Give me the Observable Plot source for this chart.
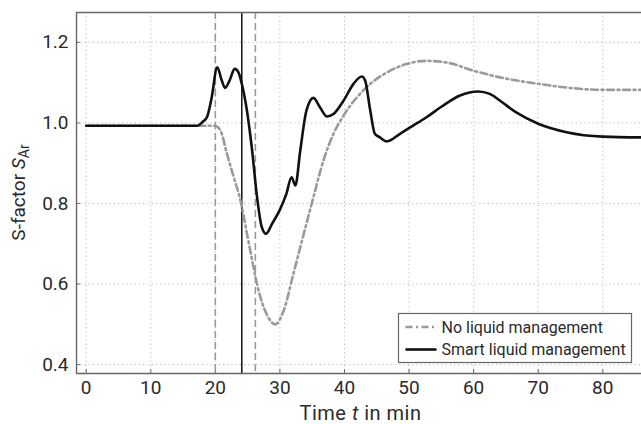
<!DOCTYPE html>
<html>
<head>
<meta charset="utf-8">
<script src="https://cdn.jsdelivr.net/npm/d3@7"></script>
<script src="https://cdn.jsdelivr.net/npm/@observablehq/plot@0.6"></script>
<style>
  html, body { margin: 0; padding: 0; background: #fff; }
  #chart { position: relative; width: 641px; height: 424px; }
</style>
</head>
<body>
<div id="chart"></div>
<script>
// ---- data ----
const smartT = [0, 8, 17.2, 18.0, 18.7, 19.4, 20.3, 21.0, 21.5, 22.2, 23.0, 23.6, 24.1, 24.9, 25.7, 26.4, 27.2, 27.85, 28.8, 29.95, 31.0, 31.8, 32.4, 33.15, 34.1, 35.2, 36.2, 37.3, 38.3, 39.85, 41.4, 42.7, 43.2, 44.0, 44.7, 45.5, 46.55, 48.6, 50.5, 52.7, 55.0, 57.9, 60.7, 62.5, 64.1, 66.6, 70.0, 74.4, 80.0, 86.0];
const smartS = [0.993, 0.993, 0.993, 1.002, 1.014, 1.06, 1.138, 1.105, 1.087, 1.105, 1.134, 1.125, 1.097, 1.03, 0.931, 0.824, 0.741, 0.725, 0.750, 0.783, 0.824, 0.865, 0.845, 0.931, 1.03, 1.062, 1.039, 1.016, 1.022, 1.055, 1.097, 1.115, 1.105, 1.03, 0.973, 0.964, 0.954, 0.973, 0.992, 1.014, 1.040, 1.068, 1.078, 1.072, 1.055, 1.026, 0.998, 0.977, 0.966, 0.964];
const noneT = [0, 8, 19.9, 20.8, 21.8, 22.85, 23.9, 24.9, 25.7, 26.7, 27.9, 29.3, 30.6, 32.1, 33.7, 35.2, 36.75, 38.3, 39.85, 41.9, 44.0, 46.55, 49.6, 52.5, 55.8, 59.9, 64.1, 70.0, 75.4, 80.0, 86.0];
const noneS = [0.993, 0.993, 0.993, 0.981, 0.923, 0.865, 0.807, 0.725, 0.659, 0.584, 0.527, 0.500, 0.535, 0.626, 0.725, 0.816, 0.907, 0.973, 1.018, 1.063, 1.097, 1.125, 1.146, 1.154, 1.150, 1.130, 1.113, 1.097, 1.086, 1.082, 1.082];
const dashedEvents = [20.0, 26.2];
const solidEvents = [24.1];
const xTicks = [0, 10, 20, 30, 40, 50, 60, 70, 80];
const yTicks = [0.4, 0.6, 0.8, 1.0, 1.2];
const seriesNames = ["No liquid management", "Smart liquid management"];

const smart = smartT.map((t, i) => ({t, s: smartS[i]}));
const none = noneT.map((t, i) => ({t, s: noneS[i]}));

const xDom = [-1.5, 86];
const yDom = [0.378, 1.274];
const frameColor = "#666";
const textColor = "#2a2a2a";

const plot = Plot.plot({
  width: 641,
  height: 424,
  marginLeft: 76,
  marginRight: 0,
  marginTop: 12,
  marginBottom: 51,
  style: {fontFamily: "Roboto", fontSize: "19px", color: textColor, background: "#fff"},
  x: {domain: xDom, ticks: xTicks, label: null},
  y: {domain: yDom, ticks: yTicks, label: null},
  marks: [
    Plot.gridX(xTicks, {stroke: "#b8b8b8", strokeOpacity: 1, strokeDasharray: "1.2,3"}),
    Plot.gridY(yTicks, {stroke: "#b8b8b8", strokeOpacity: 1, strokeDasharray: "1.2,3"}),
    Plot.ruleX(xTicks, {y1: yDom[0], y2: yDom[0] + 0.01, stroke: frameColor, strokeWidth: 1}),
    Plot.ruleY(yTicks, {x1: xDom[0], x2: xDom[0] + 0.6, stroke: frameColor, strokeWidth: 1}),
    Plot.ruleX(dashedEvents, {stroke: "#999", strokeWidth: 1.6, strokeDasharray: "7,4"}),
    Plot.ruleX(solidEvents, {stroke: "#111", strokeWidth: 1.5}),
    Plot.line(none, {x: "t", y: "s", stroke: "#9a9a9a", strokeWidth: 2.6, strokeDasharray: "7,3.5,2,3.5", curve: "monotone-x"}),
    Plot.line(smart, {x: "t", y: "s", stroke: "#111", strokeWidth: 2.6, curve: "monotone-x"}),
    Plot.ruleX([xDom[0]], {stroke: frameColor, strokeWidth: 1.4}),
    Plot.ruleY([yDom[0], yDom[1]], {stroke: frameColor, strokeWidth: 1.4}),
    Plot.axisX(xTicks, {tickSize: 0, tickPadding: 7, fontSize: 19}),
    Plot.axisY(yTicks, {tickSize: 0, tickPadding: 8, fontSize: 19, tickFormat: d3.format(".1f")})
  ]
});

document.getElementById("chart").appendChild(plot);

const svg = d3.select(plot);
const xs = plot.scale("x"), ys = plot.scale("y");
const cx = (xs.range[0] + xs.range[1]) / 2;
const cy = (ys.range[0] + ys.range[1]) / 2;

// x axis label
const xl = svg.append("text")
  .attr("x", cx + 2).attr("y", 420)
  .attr("text-anchor", "middle")
  .attr("font-family", "Roboto").attr("font-size", 20).attr("fill", textColor)
  .style("letter-spacing", "0.5px");
xl.append("tspan").text("Time ");
xl.append("tspan").attr("font-style", "italic").text("t");
xl.append("tspan").text(" in min");

// y axis label
const yl = svg.append("text")
  .attr("transform", `translate(25,${cy}) rotate(-90)`)
  .attr("text-anchor", "middle")
  .attr("font-family", "Roboto").attr("font-size", 19).attr("fill", textColor);
yl.append("tspan").text("S-factor ");
yl.append("tspan").attr("font-style", "italic").text("S");
yl.append("tspan").attr("font-size", 14).attr("dy", 4).text("Ar");

// legend
const lg = svg.append("g").attr("transform", "translate(398.5,313.5)");
lg.append("rect").attr("width", 233).attr("height", 49)
  .attr("fill", "#fff").attr("stroke", frameColor).attr("stroke-width", 1.2);
lg.append("line").attr("x1", 7).attr("x2", 38).attr("y1", 13.5).attr("y2", 13.5)
  .attr("stroke", "#9a9a9a").attr("stroke-width", 2.6).attr("stroke-dasharray", "7,3.5,2,3.5");
lg.append("line").attr("x1", 7).attr("x2", 38).attr("y1", 36).attr("y2", 36)
  .attr("stroke", "#111").attr("stroke-width", 2.6);
seriesNames.forEach((n, i) => {
  lg.append("text").attr("x", 43).attr("y", 19 + i * 22.5)
    .attr("text-anchor", "start")
    .attr("font-family", "Roboto").attr("font-size", 16).attr("fill", textColor)
    .text(n);
});
</script>
</body>
</html>
